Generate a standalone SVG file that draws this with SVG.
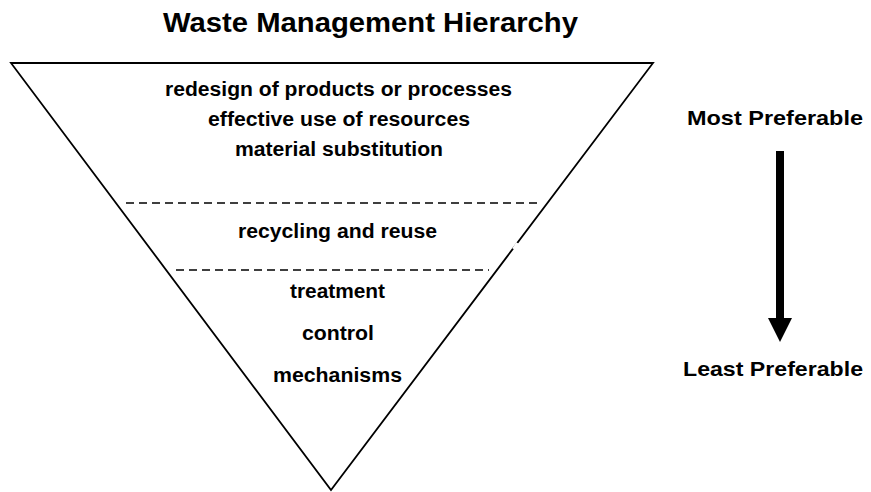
<svg xmlns="http://www.w3.org/2000/svg" width="871" height="492" viewBox="0 0 871 492">
  <style>
    text { font-family: "Liberation Sans", Arial, sans-serif; font-weight: bold; fill: #000; text-anchor: middle; }
    .title { font-size: 27px; }
    .body { font-size: 19.5px; }
    .side { font-size: 21px; }
    .edge { fill: none; stroke: #000; stroke-width: 1.8; }
    .dash { fill: none; stroke: #000; stroke-width: 1.5; stroke-dasharray: 8 5; }
  </style>
  <rect width="871" height="492" fill="#fff"/>
  <g id="title">
    <text class="title" x="370.5" y="32" textLength="415" lengthAdjust="spacingAndGlyphs">Waste Management Hierarchy</text>
  </g>
  <g id="pyramid">
    <polygon class="edge" points="11,63 653,63 331,490"/>
    <line x1="517.5" y1="243" x2="513.5" y2="249" stroke="#fff" stroke-width="3"/>
  </g>
  <g id="connectors">
    <line class="dash" x1="126" y1="203" x2="541" y2="203"/>
    <line class="dash" x1="176" y1="270" x2="489" y2="270"/>
  </g>
  <g id="tier-top">
    <text class="body" x="338.5" y="96" textLength="347" lengthAdjust="spacingAndGlyphs">redesign of products or processes</text>
    <text class="body" x="339" y="126" textLength="262" lengthAdjust="spacingAndGlyphs">effective use of resources</text>
    <text class="body" x="339" y="156" textLength="208" lengthAdjust="spacingAndGlyphs">material substitution</text>
  </g>
  <g id="tier-middle">
    <text class="body" x="337.5" y="238" textLength="199" lengthAdjust="spacingAndGlyphs">recycling and reuse</text>
  </g>
  <g id="tier-bottom">
    <text class="body" x="337.5" y="298" textLength="95" lengthAdjust="spacingAndGlyphs">treatment</text>
    <text class="body" x="338" y="340" textLength="72" lengthAdjust="spacingAndGlyphs">control</text>
    <text class="body" x="337.5" y="382" textLength="129" lengthAdjust="spacingAndGlyphs">mechanisms</text>
  </g>
  <g id="most-preferable">
    <text class="side" x="775" y="125" textLength="176" lengthAdjust="spacingAndGlyphs">Most Preferable</text>
  </g>
  <g id="arrow">
    <rect x="776" y="151" width="8" height="168" fill="#000"/>
    <polygon points="768,318 792,318 780,342" fill="#000"/>
  </g>
  <g id="least-preferable">
    <text class="side" x="773" y="376" textLength="180" lengthAdjust="spacingAndGlyphs">Least Preferable</text>
  </g>
</svg>
